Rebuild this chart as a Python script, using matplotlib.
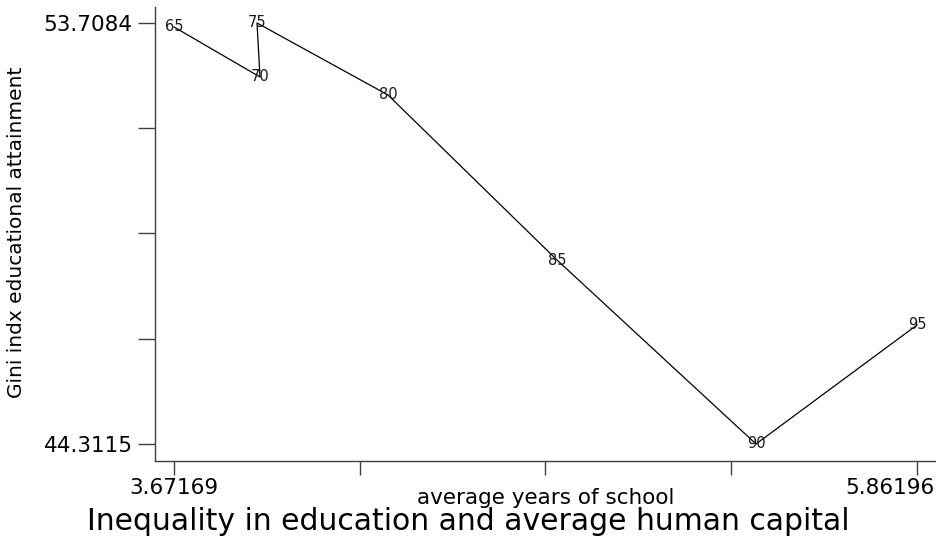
import matplotlib
matplotlib.use("Agg")
import matplotlib.pyplot as plt
import matplotlib.transforms as mtransforms
import numpy as np

plt.rcParams['font.family'] = ['DejaVu Sans']

# average years of school vs Gini index, by year
years = ["65", "70", "75", "80", "85", "90", "95"]
avg_school = [3.67169, 3.9252, 3.9164, 4.3025, 4.8007, 5.3874, 5.86196]
gini = [53.619, 52.503, 53.7084, 52.101, 48.418, 44.3115, 46.968]

x_min, x_max = 3.67169, 5.86196
y_min, y_max = 44.3115, 53.7084

fig = plt.figure(figsize=(9.37, 5.38), dpi=100)
ax = fig.add_axes([155 / 937, 77 / 538, 782 / 937, 454 / 538])

ax.plot(avg_school, gini, color='black', linewidth=0.9)
for lab, xv, yv in zip(years, avg_school, gini):
    ax.text(xv, yv, lab, ha='center', va='center', fontsize=10.5, color='#1a1a1a')

ax.set_xlim(3.6157, 5.9209)
ax.set_ylim(43.932, 54.065)

for s in ['top', 'right']:
    ax.spines[s].set_visible(False)
for s in ['left', 'bottom']:
    ax.spines[s].set_linewidth(1.0)
    ax.spines[s].set_color('#404040')

ax.set_xticks([x_min, x_max])
ax.set_xticklabels(["3.67169", "5.86196"])
ax.set_xticks(np.linspace(x_min, x_max, 5)[1:-1], minor=True)
ax.set_yticks([y_min, y_max])
ax.set_yticklabels(["44.3115", "53.7084"])
ax.set_yticks(np.linspace(y_min, y_max, 5)[1:-1], minor=True)

ax.tick_params(axis='both', which='both', direction='out', color='#404040', width=1.0)
ax.tick_params(axis='x', which='both', length=10, labelsize=15.5, pad=2)
ax.tick_params(axis='y', which='both', length=12, labelsize=15.5, pad=4)

# last x label sits shifted left so it stays inside the figure
lbl = ax.get_xticklabels()[1]
lbl.set_transform(lbl.get_transform() +
                  mtransforms.ScaledTranslation(-0.27, 0, fig.dpi_scale_trans))

ax.set_xlabel("average years of school", fontsize=15.5, va='center')
ax.xaxis.set_label_coords(0.5, -0.0815)
ax.set_ylabel("Gini indx educational attainment", fontsize=14.5, va='center')
ax.yaxis.set_label_coords(-0.1765, 0.504)

fig.text(468 / 937, 1 - 521 / 538, "Inequality in education and average human capital",
         ha='center', va='center', fontsize=21.5)

fig.savefig("out.png", dpi=100)
